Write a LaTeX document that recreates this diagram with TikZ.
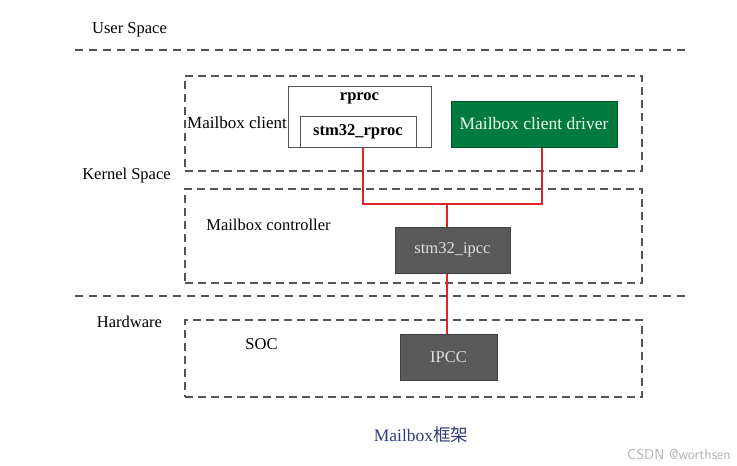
\documentclass[tikz,border=0pt]{standalone}
\usepackage{fontspec}
\setmainfont{Liberation Serif}
\newfontfamily\cjk{Noto Sans CJK SC}
\usepackage{tikz}
\usetikzlibrary{calc}
\definecolor{dashgray}{HTML}{555555}
\definecolor{chipgray}{HTML}{595959}
\definecolor{drvgreen}{HTML}{007A3D}
\definecolor{linkred}{HTML}{D9252B}
\definecolor{capblue}{HTML}{2F3D7C}

\begin{document}
\begin{tikzpicture}[x=1pt,y=-1pt,
    txt/.style={inner sep=0pt,font=\fontsize{16.5}{20}\selectfont},
    layer/.style={draw=dashgray,line width=1.4pt,dash pattern=on 8pt off 5pt,
      minimum width=457,inner sep=0pt},
    sepline/.style={draw=dashgray,line width=2pt,dash pattern=on 8pt off 6pt},
    plainbox/.style={draw=dashgray,line width=1pt,fill=white,inner sep=0pt},
    chip/.style={draw=black!75,fill=chipgray,text=black!12,line width=1pt,
      inner sep=0pt,font=\fontsize{16.5}{20}\selectfont},
    link/.style={draw=linkred,line width=2.8pt}]
  \useasboundingbox (0,0) rectangle (737,466);
  \node[txt] (userlbl) at (129.5,30) {User Space};
  \node[txt] (kernellbl) at (126.5,176) {Kernel Space};
  \node[txt] (hwlbl) at (129.5,322) {Hardware};
  \coordinate (sepA) at (75,50);
  \coordinate (sepB) at (685,50);
  \coordinate (sepC) at (75,296);
  \coordinate (sepD) at (685,296);
  \draw[sepline] (sepA) -- (sepB);
  \draw[sepline] (sepC) -- (sepD);
  \node[layer,minimum height=95] (clientbox) at (413.5,123.5) {};
  \node[layer,minimum height=94] (ctrlbox) at (413.5,236) {};
  \node[layer,minimum height=77] (socbox) at (413.5,358.5) {};
  \node[txt,font=\fontsize{17}{20}\selectfont,anchor=east] (clientlbl) at (287,123) {Mailbox client};
  \node[txt] (ctrllbl) at (268.5,225) {Mailbox controller};
  \node[txt] (soclbl) at (261.5,344) {SOC};
  \node[plainbox,minimum width=143,minimum height=61] (rproc) at (359.5,116.5) {};
  \node[txt,font=\bfseries\fontsize{16.5}{20}\selectfont] (rproclbl) at (359.5,98) {rproc};
  \node[plainbox,minimum width=116,minimum height=31,
    font=\bfseries\fontsize{16.5}{20}\selectfont] (stmrproc) at (358,131.5) {stm32\_rproc};
  \node[chip,fill=drvgreen,draw=drvgreen!70!black,text=white!92!green,
    minimum width=166,minimum height=46,font=\fontsize{17.5}{20}\selectfont]
    (driver) at (534,124) {Mailbox client driver};
  \node[chip,minimum width=115,minimum height=46] (stmipcc) at (452.5,250) {stm32\_ipcc};
  \node[chip,minimum width=97,minimum height=46] (ipcc) at (448.5,357) {IPCC};
  \coordinate (join) at (447,204);
  \draw[link] ([xshift=5]stmrproc.south) |- (join) -| ([xshift=8]driver.south);
  \draw[link] (join) -- (stmipcc.north -| join);
  \draw[link] (stmipcc.south -| join) -- (ipcc.north -| join);
  \node[txt,text=capblue,font=\fontsize{17.5}{20}\selectfont] (caption) at (421,435)
    {Mailbox{\cjk 框架}};
  \node[inner sep=0pt,text=black!30,anchor=west,
    font=\fontfamily{lmss}\fontsize{14.5}{16}\selectfont] (mark) at (627,454) {CSDN @worthsen};
\end{tikzpicture}
\end{document}
